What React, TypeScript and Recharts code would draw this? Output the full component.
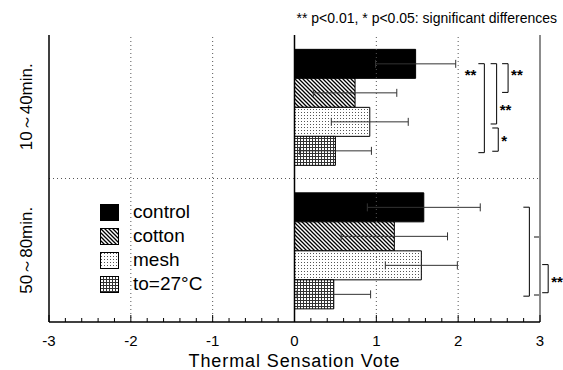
import React from 'react';
import {
  BarChart,
  Bar,
  XAxis,
  YAxis,
  CartesianGrid,
  ReferenceLine,
  ErrorBar,
  Legend,
  Label,
} from 'recharts';

// thermal sensation vote, mean and SD per condition
const categories = ['10～40min.', '50～80min.'];
const control = [1.48, 1.58];
const controlSd = [0.49, 0.69];
const cotton = [0.74, 1.22];
const cottonSd = [0.51, 0.65];
const mesh = [0.92, 1.55];
const meshSd = [0.47, 0.44];
const to27 = [0.5, 0.48];
const to27Sd = [0.44, 0.45];

const majorTicks = [-3, -2, -1, 0, 1, 2, 3];
const allTicks = [
  -3, -2.8, -2.6, -2.4, -2.2, -2, -1.8, -1.6, -1.4, -1.2, -1, -0.8, -0.6, -0.4, -0.2, 0,
  0.2, 0.4, 0.6, 0.8, 1, 1.2, 1.4, 1.6, 1.8, 2, 2.2, 2.4, 2.6, 2.8, 3,
];

const data = categories.map((name, i) => ({
  name,
  control: control[i],
  controlSd: controlSd[i],
  cotton: cotton[i],
  cottonSd: cottonSd[i],
  mesh: mesh[i],
  meshSd: meshSd[i],
  to27: to27[i],
  to27Sd: to27Sd[i],
}));

const series = [
  { key: 'control', name: 'control', fill: '#000' },
  { key: 'cotton', name: 'cotton', fill: 'url(#hatch)' },
  { key: 'mesh', name: 'mesh', fill: 'url(#dots)' },
  { key: 'to27', name: 'to=27°C', fill: 'url(#grid)' },
];

// significance brackets: bar positions (0..3) inside a group, x in vote units
const sigBrackets = [
  { group: 0, from: 0, to: 3.1, x: 2.32, label: '**', side: 'left', at: 0.3 },
  { group: 0, from: 0, to: 2.1, x: 2.47, label: '**', side: 'right', at: 1.5 },
  { group: 0, from: 0, to: 1.0, x: 2.61, label: '**', side: 'right', at: 0.3 },
  { group: 0, from: 2.24, to: 3.05, x: 2.49, label: '*', side: 'right', at: 2.6 },
  { group: 1, from: 0, to: 3.1, x: 2.87, label: '', side: 'right', at: 0 },
  { group: 1, from: 1.04, to: 3.06, x: 3.0, label: '', side: 'right', at: 0, gray: true },
  { group: 1, from: 2.0, to: 2.98, x: 3.1, label: '**', side: 'right', at: 2.5 },
];

const W = 563;
const H = 370;
const FONT = '"Liberation Sans", Arial, Helvetica, sans-serif';
const margin = { top: 35, right: 23, bottom: 0, left: 19 };
const Y_W = 30;
const X_H = 48;

// plot box, used only for the annotation overlay
const PL = margin.left + Y_W;
const PR = W - margin.right;
const PT = margin.top;
const PB = H - X_H;
const bandH = (PB - PT) / categories.length;
const catGap = bandH * 0.1;
const barH = (bandH - 2 * catGap) / series.length;
const xPx = (v: number) => PL + ((v + 3) / 6) * (PR - PL);
const yPx = (g: number, pos: number) => PT + g * bandH + catGap + (pos + 0.5) * barH;

const BottomTick = (props: any) => {
  const { x, y, payload } = props;
  const major = majorTicks.includes(payload.value);
  return (
    <g>
      <line x1={x} x2={x} y1={y} y2={y - (major ? 7 : 4)} stroke="#000" strokeWidth={1} />
      {major && (
        <text x={x} y={y + 24} textAnchor="middle" fontSize={15} fontFamily={FONT} fill="#000">
          {payload.value}
        </text>
      )}
    </g>
  );
};

const TopTick = (props: any) => {
  const { x, y, payload } = props;
  const major = majorTicks.includes(payload.value);
  return <line x1={x} x2={x} y1={y} y2={y + (major ? 6 : 4)} stroke="#000" strokeWidth={1} />;
};

const CatTick = (props: any) => {
  const { y, payload } = props;
  const cx = 26;
  return (
    <text
      x={cx}
      y={y}
      transform={`rotate(-90, ${cx}, ${y})`}
      textAnchor="middle"
      dominantBaseline="central"
      fontSize={17}
      fontFamily={FONT}
      fill="#000"
    >
      {payload.value}
    </text>
  );
};

const renderLegend = () => (
  <div style={{ fontFamily: FONT, fontSize: 19, color: '#000' }}>
    {series.map((s) => (
      <div key={s.key} style={{ display: 'flex', alignItems: 'center', height: 24 }}>
        <svg width={19} height={17} style={{ marginRight: 14 }}>
          <rect x={0.5} y={0.5} width={18} height={16} fill={s.fill} stroke="#000" />
        </svg>
        <span>{s.name}</span>
      </div>
    ))}
  </div>
);

export default function App() {
  return (
    <div style={{ position: 'absolute', left: 0, top: 0, width: W, height: H, background: '#fff' }}>
      <BarChart
        width={W}
        height={H}
        data={data}
        layout="vertical"
        margin={margin}
        barCategoryGap="10%"
        barGap={0}
      >
        <CartesianGrid
          vertical={false}
          stroke="#555"
          strokeDasharray="1 3"
          horizontalCoordinatesGenerator={({ offset }: any) => [offset.top + offset.height / 2]}
        />
        <XAxis
          type="number"
          domain={[-3, 3]}
          ticks={allTicks}
          interval={0}
          height={X_H}
          tickLine={false}
          tickSize={0}
          tickMargin={0}
          tick={<BottomTick />}
          axisLine={{ stroke: '#000', strokeWidth: 1.5 }}
        >
          <Label
            value="Thermal Sensation Vote"
            position="insideBottom"
            offset={3}
            style={{ fontSize: 18, letterSpacing: 0.9, fill: '#000', fontFamily: FONT }}
          />
        </XAxis>
        <XAxis
          xAxisId="top"
          orientation="top"
          type="number"
          domain={[-3, 3]}
          ticks={allTicks}
          interval={0}
          height={0}
          tickLine={false}
          tickSize={0}
          tickMargin={0}
          tick={<TopTick />}
          axisLine={{ stroke: '#000', strokeWidth: 1.5 }}
        />
        <YAxis
          type="category"
          dataKey="name"
          width={Y_W}
          tickLine={false}
          tick={<CatTick />}
          axisLine={{ stroke: '#000', strokeWidth: 1.5 }}
        />
        {[-2, -1, 1, 2].map((v) => (
          <ReferenceLine key={v} x={v} stroke="#555" strokeDasharray="1 3" />
        ))}
        <ReferenceLine x={3} stroke="#666" strokeWidth={1.5} />
        <ReferenceLine x={0} stroke="#000" strokeWidth={1.5} />
        <Legend
          layout="vertical"
          align="center"
          verticalAlign="middle"
          content={renderLegend}
          wrapperStyle={{ position: 'absolute', left: 100, top: 200, width: 150 }}
        />
        {series.map((s) => (
          <Bar
            key={s.key}
            dataKey={s.key}
            name={s.name}
            fill={s.fill}
            stroke="#000"
            strokeWidth={1}
            isAnimationActive={false}
          >
            <ErrorBar
              dataKey={`${s.key}Sd`}
              direction="x"
              width={4}
              stroke="#333"
              strokeWidth={1}
              isAnimationActive={false}
            />
          </Bar>
        ))}
      </BarChart>
      <svg
        width={W}
        height={H}
        style={{ position: 'absolute', left: 0, top: 0, pointerEvents: 'none' }}
      >
        <defs>
          <pattern id="hatch" width="4" height="4" patternUnits="userSpaceOnUse">
            <rect width="4" height="4" fill="#fff" />
            <path d="M-1,-1 L5,5 M-1,3 L1,5 M3,-1 L5,1" stroke="#000" strokeWidth="1.3" />
          </pattern>
          <pattern id="dots" width="3" height="3" patternUnits="userSpaceOnUse">
            <rect width="3" height="3" fill="#fff" />
            <rect x="1" y="1" width="1" height="1" fill="#555" />
          </pattern>
          <pattern id="grid" width="3" height="3" patternUnits="userSpaceOnUse">
            <rect width="3" height="3" fill="#fff" />
            <path d="M0,0.5 H3 M0.5,0 V3" stroke="#333" strokeWidth="1" />
          </pattern>
        </defs>
        <text x={557} y={23} textAnchor="end" fontSize={14} fontFamily={FONT} fill="#000">
          ** p&lt;0.01, * p&lt;0.05: significant differences
        </text>
        {sigBrackets.map((b, i) => {
          const x = xPx(b.x);
          const y1 = yPx(b.group, b.from);
          const y2 = yPx(b.group, b.to);
          const ly = yPx(b.group, b.at);
          return (
            <g key={i}>
              <path
                d={`M${x - 6},${y1} L${x},${y1} L${x},${y2} L${x - 6},${y2}`}
                fill="none"
                stroke={b.gray ? '#888' : '#000'}
                strokeWidth={b.gray ? 2 : 1}
              />
              {b.label && (
                <text
                  x={b.side === 'left' ? x - 8 : x + 3}
                  y={ly + 8}
                  textAnchor={b.side === 'left' ? 'end' : 'start'}
                  fontSize={15}
                  fontWeight="bold"
                  fontFamily={FONT}
                  fill="#000"
                >
                  {b.label}
                </text>
              )}
            </g>
          );
        })}
      </svg>
    </div>
  );
}
